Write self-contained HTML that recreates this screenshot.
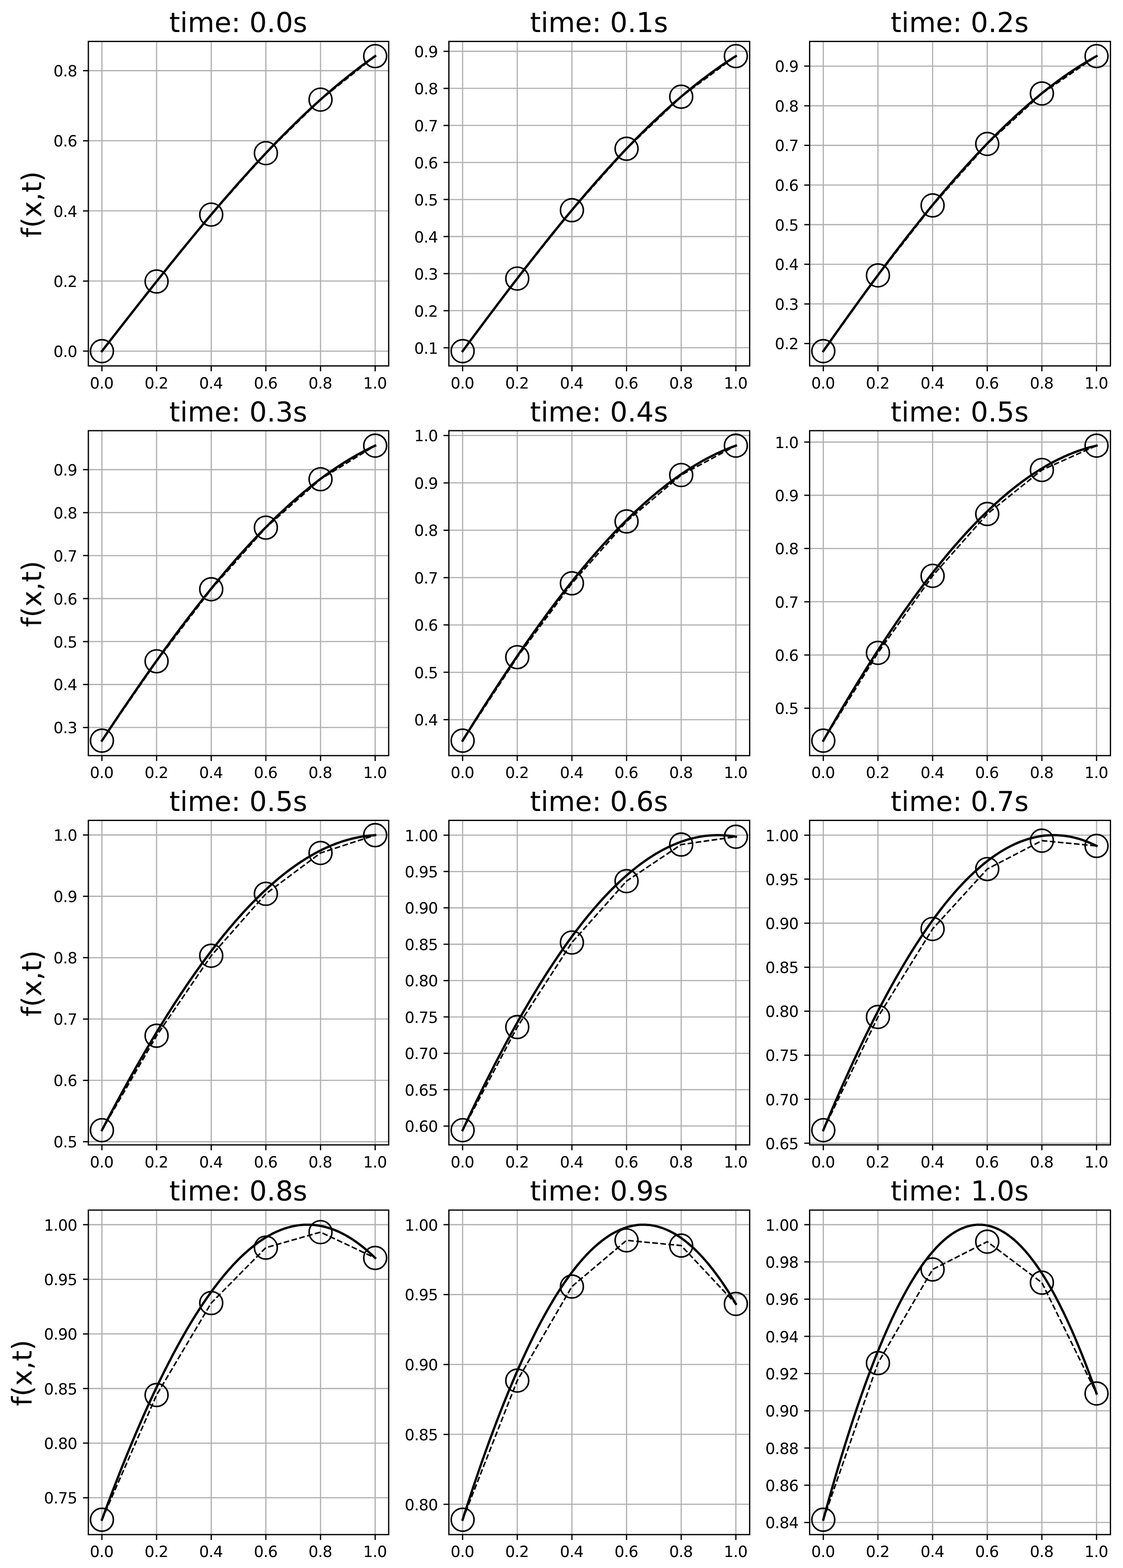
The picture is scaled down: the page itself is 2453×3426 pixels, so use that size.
<!DOCTYPE html>
<html lang="en">
<head>
<meta charset="utf-8">
<title>f(x,t) time evolution</title>
<style>
html, body { margin: 0; padding: 0; background: #ffffff; }
body { width: 2453px; height: 3426px; }
svg { display: block; }
text { font-family: "DejaVu Sans", "Liberation Sans", sans-serif; text-rendering: geometricPrecision; }
</style>
</head>
<body>
<svg width="2453" height="3426" viewBox="0 0 2453 3426" font-family="'DejaVu Sans', 'Liberation Sans', sans-serif">
<rect x="0" y="0" width="2453" height="3426" fill="#ffffff"/>
<defs>
<clipPath id="c0"><rect x="193" y="90.5" width="656" height="709"/></clipPath>
<clipPath id="c1"><rect x="980.5" y="90.5" width="657" height="709"/></clipPath>
<clipPath id="c2"><rect x="1768.5" y="90.5" width="657.1" height="709"/></clipPath>
<clipPath id="c3"><rect x="193" y="941" width="656" height="710"/></clipPath>
<clipPath id="c4"><rect x="980.5" y="941" width="657" height="710"/></clipPath>
<clipPath id="c5"><rect x="1768.5" y="941" width="657.1" height="710"/></clipPath>
<clipPath id="c6"><rect x="193" y="1792.5" width="656" height="709"/></clipPath>
<clipPath id="c7"><rect x="980.5" y="1792.5" width="657" height="709"/></clipPath>
<clipPath id="c8"><rect x="1768.5" y="1792.5" width="657.1" height="709"/></clipPath>
<clipPath id="c9"><rect x="193" y="2644" width="656" height="709"/></clipPath>
<clipPath id="c10"><rect x="980.5" y="2644" width="657" height="709"/></clipPath>
<clipPath id="c11"><rect x="1768.5" y="2644" width="657.1" height="709"/></clipPath>
</defs>
<g id="ax0">
<path d="M222.64 90.5V799.5M342.02 90.5V799.5M461.39 90.5V799.5M580.76 90.5V799.5M700.13 90.5V799.5M819.51 90.5V799.5M193 767.22H849M193 614H849M193 460.79H849M193 307.57H849M193 154.35H849" stroke="#b0b0b0" stroke-width="2.6" fill="none"/>
<path d="M222.64 799.5v11.67M342.02 799.5v11.67M461.39 799.5v11.67M580.76 799.5v11.67M700.13 799.5v11.67M819.51 799.5v11.67M193 767.22h-11.67M193 614h-11.67M193 460.79h-11.67M193 307.57h-11.67M193 154.35h-11.67" stroke="#000" stroke-width="2.75" fill="none"/>
<g clip-path="url(#c0)" fill="none" stroke="#000">
<polyline points="222.64,767.22 228.61,759.56 234.58,751.9 240.55,744.24 246.52,736.58 252.49,728.93 258.45,721.28 264.42,713.64 270.39,706 276.36,698.36 282.33,690.74 288.3,683.12 294.27,675.51 300.24,667.91 306.2,660.32 312.17,652.74 318.14,645.17 324.11,637.61 330.08,630.07 336.05,622.54 342.02,615.02 347.98,607.52 353.95,600.04 359.92,592.57 365.89,585.12 371.86,577.69 377.83,570.27 383.8,562.88 389.76,555.51 395.73,548.16 401.7,540.83 407.67,533.52 413.64,526.23 419.61,518.97 425.58,511.74 431.55,504.53 437.51,497.35 443.48,490.19 449.45,483.06 455.42,475.96 461.39,468.89 467.36,461.85 473.33,454.84 479.29,447.86 485.26,440.91 491.23,434 497.2,427.12 503.17,420.27 509.14,413.46 515.11,406.68 521.07,399.94 527.04,393.23 533.01,386.57 538.98,379.94 544.95,373.35 550.92,366.8 556.89,360.29 562.86,353.82 568.82,347.39 574.79,341 580.76,334.66 586.73,328.35 592.7,322.1 598.67,315.88 604.64,309.72 610.6,303.6 616.57,297.52 622.54,291.49 628.51,285.51 634.48,279.58 640.45,273.69 646.42,267.86 652.38,262.07 658.35,256.34 664.32,250.66 670.29,245.03 676.26,239.45 682.23,233.92 688.2,228.45 694.17,223.03 700.13,217.66 706.1,212.35 712.07,207.1 718.04,201.9 724.01,196.76 729.98,191.68 735.95,186.65 741.91,181.68 747.88,176.77 753.85,171.92 759.82,167.12 765.79,162.39 771.76,157.72 777.73,153.11 783.69,148.56 789.66,144.07 795.63,139.65 801.6,135.29 807.57,130.99 813.54,126.75 819.51,122.58" stroke-width="5" stroke-linejoin="round" stroke-linecap="square"/>
<polyline points="222.64,767.22 342.02,615.02 461.39,468.89 580.76,334.66 700.13,217.66 819.51,122.58" stroke-width="3.35" stroke-dasharray="12.33 5.33" stroke-linejoin="round"/>
<circle cx="222.64" cy="767.22" r="25" stroke-width="3.4"/>
<circle cx="342.02" cy="615.02" r="25" stroke-width="3.4"/>
<circle cx="461.39" cy="468.89" r="25" stroke-width="3.4"/>
<circle cx="580.76" cy="334.66" r="25" stroke-width="3.4"/>
<circle cx="700.13" cy="217.66" r="25" stroke-width="3.4"/>
<circle cx="819.51" cy="122.58" r="25" stroke-width="3.4"/>
</g>
<rect x="193" y="90.5" width="656" height="709" fill="none" stroke="#000" stroke-width="2.75" stroke-linejoin="miter"/>
<g font-size="33.9px" fill="#000" letter-spacing="-0.8">
<text x="222.04" y="848.88" text-anchor="middle">0.0</text>
<text x="341.42" y="848.88" text-anchor="middle">0.2</text>
<text x="460.79" y="848.88" text-anchor="middle">0.4</text>
<text x="580.16" y="848.88" text-anchor="middle">0.6</text>
<text x="699.53" y="848.88" text-anchor="middle">0.8</text>
<text x="818.91" y="848.88" text-anchor="middle">1.0</text>
<text x="168.37" y="780.02" text-anchor="end">0.0</text>
<text x="168.37" y="626.8" text-anchor="end">0.2</text>
<text x="168.37" y="473.59" text-anchor="end">0.4</text>
<text x="168.37" y="320.37" text-anchor="end">0.6</text>
<text x="168.37" y="167.15" text-anchor="end">0.8</text>
</g>
<text x="520.58" y="69.55" font-size="60px" text-anchor="middle" fill="#000">time: 0.0s</text>
<text transform="translate(90.1 446.5) rotate(-90)" font-size="59.5px" text-anchor="middle" fill="#000">f(x,t)</text>
</g>
<g id="ax1">
<path d="M1010.49 90.5V799.5M1129.87 90.5V799.5M1249.24 90.5V799.5M1368.61 90.5V799.5M1487.98 90.5V799.5M1607.36 90.5V799.5M980.5 759.76H1637.5M980.5 678.8H1637.5M980.5 597.84H1637.5M980.5 516.88H1637.5M980.5 435.93H1637.5M980.5 354.97H1637.5M980.5 274.01H1637.5M980.5 193.05H1637.5M980.5 112.1H1637.5" stroke="#b0b0b0" stroke-width="2.6" fill="none"/>
<path d="M1010.49 799.5v11.67M1129.87 799.5v11.67M1249.24 799.5v11.67M1368.61 799.5v11.67M1487.98 799.5v11.67M1607.36 799.5v11.67M980.5 759.76h-11.67M980.5 678.8h-11.67M980.5 597.84h-11.67M980.5 516.88h-11.67M980.5 435.93h-11.67M980.5 354.97h-11.67M980.5 274.01h-11.67M980.5 193.05h-11.67M980.5 112.1h-11.67" stroke="#000" stroke-width="2.75" fill="none"/>
<g clip-path="url(#c1)" fill="none" stroke="#000">
<polyline points="1010.49,767.22 1016.46,759.16 1022.43,751.11 1028.4,743.07 1034.37,735.04 1040.34,727.02 1046.31,719.01 1052.27,711.01 1058.24,703.02 1064.21,695.05 1070.18,687.1 1076.15,679.16 1082.12,671.23 1088.09,663.32 1094.05,655.43 1100.02,647.56 1105.99,639.71 1111.96,631.88 1117.93,624.07 1123.9,616.28 1129.87,608.51 1135.83,600.77 1141.8,593.05 1147.77,585.35 1153.74,577.68 1159.71,570.04 1165.68,562.42 1171.65,554.83 1177.62,547.27 1183.58,539.74 1189.55,532.24 1195.52,524.77 1201.49,517.33 1207.46,509.93 1213.43,502.56 1219.4,495.22 1225.36,487.91 1231.33,480.65 1237.3,473.41 1243.27,466.22 1249.24,459.06 1255.21,451.94 1261.18,444.86 1267.14,437.81 1273.11,430.81 1279.08,423.85 1285.05,416.93 1291.02,410.06 1296.99,403.22 1302.96,396.43 1308.93,389.69 1314.89,382.99 1320.86,376.33 1326.83,369.72 1332.8,363.16 1338.77,356.65 1344.74,350.18 1350.71,343.77 1356.67,337.4 1362.64,331.09 1368.61,324.82 1374.58,318.61 1380.55,312.45 1386.52,306.34 1392.49,300.28 1398.45,294.28 1404.42,288.34 1410.39,282.45 1416.36,276.61 1422.33,270.83 1428.3,265.11 1434.27,259.45 1440.24,253.84 1446.2,248.29 1452.17,242.81 1458.14,237.38 1464.11,232.01 1470.08,226.7 1476.05,221.46 1482.02,216.27 1487.98,211.15 1493.95,206.09 1499.92,201.1 1505.89,196.17 1511.86,191.3 1517.83,186.5 1523.8,181.76 1529.76,177.09 1535.73,172.49 1541.7,167.95 1547.67,163.48 1553.64,159.08 1559.61,154.75 1565.58,150.48 1571.55,146.29 1577.51,142.16 1583.48,138.1 1589.45,134.12 1595.42,130.2 1601.39,126.36 1607.36,122.58" stroke-width="5" stroke-linejoin="round" stroke-linecap="square"/>
<polyline points="1010.49,767.22 1129.87,608.65 1249.24,459.26 1368.61,325.01 1487.98,211.26 1607.36,122.58" stroke-width="3.35" stroke-dasharray="12.33 5.33" stroke-linejoin="round"/>
<circle cx="1010.49" cy="767.22" r="25" stroke-width="3.4"/>
<circle cx="1129.87" cy="608.65" r="25" stroke-width="3.4"/>
<circle cx="1249.24" cy="459.26" r="25" stroke-width="3.4"/>
<circle cx="1368.61" cy="325.01" r="25" stroke-width="3.4"/>
<circle cx="1487.98" cy="211.26" r="25" stroke-width="3.4"/>
<circle cx="1607.36" cy="122.58" r="25" stroke-width="3.4"/>
</g>
<rect x="980.5" y="90.5" width="657" height="709" fill="none" stroke="#000" stroke-width="2.75" stroke-linejoin="miter"/>
<g font-size="33.9px" fill="#000" letter-spacing="-0.8">
<text x="1009.89" y="848.88" text-anchor="middle">0.0</text>
<text x="1129.27" y="848.88" text-anchor="middle">0.2</text>
<text x="1248.64" y="848.88" text-anchor="middle">0.4</text>
<text x="1368.01" y="848.88" text-anchor="middle">0.6</text>
<text x="1487.38" y="848.88" text-anchor="middle">0.8</text>
<text x="1606.76" y="848.88" text-anchor="middle">1.0</text>
<text x="956.22" y="772.56" text-anchor="end">0.1</text>
<text x="956.22" y="691.6" text-anchor="end">0.2</text>
<text x="956.22" y="610.64" text-anchor="end">0.3</text>
<text x="956.22" y="529.68" text-anchor="end">0.4</text>
<text x="956.22" y="448.73" text-anchor="end">0.5</text>
<text x="956.22" y="367.77" text-anchor="end">0.6</text>
<text x="956.22" y="286.81" text-anchor="end">0.7</text>
<text x="956.22" y="205.85" text-anchor="end">0.8</text>
<text x="956.22" y="124.9" text-anchor="end">0.9</text>
</g>
<text x="1308.42" y="69.55" font-size="60px" text-anchor="middle" fill="#000">time: 0.1s</text>
</g>
<g id="ax2">
<path d="M1798.34 90.5V799.5M1917.72 90.5V799.5M2037.09 90.5V799.5M2156.46 90.5V799.5M2275.83 90.5V799.5M2395.21 90.5V799.5M1768.5 750.61H2425.6M1768.5 664.02H2425.6M1768.5 577.43H2425.6M1768.5 490.84H2425.6M1768.5 404.25H2425.6M1768.5 317.66H2425.6M1768.5 231.08H2425.6M1768.5 144.49H2425.6" stroke="#b0b0b0" stroke-width="2.6" fill="none"/>
<path d="M1798.34 799.5v11.67M1917.72 799.5v11.67M2037.09 799.5v11.67M2156.46 799.5v11.67M2275.83 799.5v11.67M2395.21 799.5v11.67M1768.5 750.61h-11.67M1768.5 664.02h-11.67M1768.5 577.43h-11.67M1768.5 490.84h-11.67M1768.5 404.25h-11.67M1768.5 317.66h-11.67M1768.5 231.08h-11.67M1768.5 144.49h-11.67" stroke="#000" stroke-width="2.75" fill="none"/>
<g clip-path="url(#c2)" fill="none" stroke="#000">
<polyline points="1798.34,767.22 1804.31,758.71 1810.28,750.22 1816.25,741.74 1822.22,733.29 1828.19,724.85 1834.15,716.43 1840.12,708.04 1846.09,699.66 1852.06,691.31 1858.03,682.98 1864,674.68 1869.97,666.4 1875.94,658.14 1881.9,649.91 1887.87,641.71 1893.84,633.54 1899.81,625.4 1905.78,617.28 1911.75,609.2 1917.72,601.15 1923.68,593.13 1929.65,585.14 1935.62,577.19 1941.59,569.27 1947.56,561.39 1953.53,553.55 1959.5,545.74 1965.46,537.97 1971.43,530.23 1977.4,522.54 1983.37,514.89 1989.34,507.28 1995.31,499.71 2001.28,492.18 2007.25,484.69 2013.21,477.25 2019.18,469.86 2025.15,462.51 2031.12,455.2 2037.09,447.94 2043.06,440.73 2049.03,433.57 2054.99,426.46 2060.96,419.39 2066.93,412.38 2072.9,405.42 2078.87,398.51 2084.84,391.65 2090.81,384.85 2096.78,378.1 2102.74,371.4 2108.71,364.76 2114.68,358.18 2120.65,351.65 2126.62,345.18 2132.59,338.77 2138.56,332.41 2144.52,326.12 2150.49,319.88 2156.46,313.71 2162.43,307.59 2168.4,301.54 2174.37,295.55 2180.34,289.62 2186.3,283.76 2192.27,277.96 2198.24,272.22 2204.21,266.55 2210.18,260.95 2216.15,255.41 2222.12,249.94 2228.09,244.53 2234.05,239.2 2240.02,233.93 2245.99,228.73 2251.96,223.6 2257.93,218.54 2263.9,213.56 2269.87,208.64 2275.83,203.79 2281.8,199.02 2287.77,194.32 2293.74,189.69 2299.71,185.13 2305.68,180.65 2311.65,176.24 2317.61,171.91 2323.58,167.65 2329.55,163.47 2335.52,159.37 2341.49,155.34 2347.46,151.39 2353.43,147.51 2359.39,143.71 2365.36,140 2371.33,136.35 2377.3,132.79 2383.27,129.31 2389.24,125.91 2395.21,122.58" stroke-width="5" stroke-linejoin="round" stroke-linecap="square"/>
<polyline points="1798.34,767.22 1917.72,601.72 2037.09,448.79 2156.46,314.48 2275.83,204.24 2395.21,122.58" stroke-width="3.35" stroke-dasharray="12.33 5.33" stroke-linejoin="round"/>
<circle cx="1798.34" cy="767.22" r="25" stroke-width="3.4"/>
<circle cx="1917.72" cy="601.72" r="25" stroke-width="3.4"/>
<circle cx="2037.09" cy="448.79" r="25" stroke-width="3.4"/>
<circle cx="2156.46" cy="314.48" r="25" stroke-width="3.4"/>
<circle cx="2275.83" cy="204.24" r="25" stroke-width="3.4"/>
<circle cx="2395.21" cy="122.58" r="25" stroke-width="3.4"/>
</g>
<rect x="1768.5" y="90.5" width="657.1" height="709" fill="none" stroke="#000" stroke-width="2.75" stroke-linejoin="miter"/>
<g font-size="33.9px" fill="#000" letter-spacing="-0.8">
<text x="1797.74" y="848.88" text-anchor="middle">0.0</text>
<text x="1917.12" y="848.88" text-anchor="middle">0.2</text>
<text x="2036.49" y="848.88" text-anchor="middle">0.4</text>
<text x="2155.86" y="848.88" text-anchor="middle">0.6</text>
<text x="2275.23" y="848.88" text-anchor="middle">0.8</text>
<text x="2394.61" y="848.88" text-anchor="middle">1.0</text>
<text x="1744.07" y="763.41" text-anchor="end">0.2</text>
<text x="1744.07" y="676.82" text-anchor="end">0.3</text>
<text x="1744.07" y="590.23" text-anchor="end">0.4</text>
<text x="1744.07" y="503.64" text-anchor="end">0.5</text>
<text x="1744.07" y="417.05" text-anchor="end">0.6</text>
<text x="1744.07" y="330.46" text-anchor="end">0.7</text>
<text x="1744.07" y="243.88" text-anchor="end">0.8</text>
<text x="1744.07" y="157.29" text-anchor="end">0.9</text>
</g>
<text x="2096.27" y="69.55" font-size="60px" text-anchor="middle" fill="#000">time: 0.2s</text>
</g>
<g id="ax3">
<path d="M222.64 941V1651M342.02 941V1651M461.39 941V1651M580.76 941V1651M700.13 941V1651M819.51 941V1651M193 1589.55H849M193 1495.65H849M193 1401.76H849M193 1307.86H849M193 1213.97H849M193 1120.07H849M193 1026.17H849" stroke="#b0b0b0" stroke-width="2.6" fill="none"/>
<path d="M222.64 1651v11.67M342.02 1651v11.67M461.39 1651v11.67M580.76 1651v11.67M700.13 1651v11.67M819.51 1651v11.67M193 1589.55h-11.67M193 1495.65h-11.67M193 1401.76h-11.67M193 1307.86h-11.67M193 1213.97h-11.67M193 1120.07h-11.67M193 1026.17h-11.67" stroke="#000" stroke-width="2.75" fill="none"/>
<g clip-path="url(#c3)" fill="none" stroke="#000">
<polyline points="222.64,1618.32 228.61,1609.29 234.58,1600.28 240.55,1591.31 246.52,1582.36 252.49,1573.44 258.45,1564.55 264.42,1555.69 270.39,1546.86 276.36,1538.07 282.33,1529.31 288.3,1520.58 294.27,1511.89 300.24,1503.23 306.2,1494.61 312.17,1486.03 318.14,1477.48 324.11,1468.98 330.08,1460.52 336.05,1452.09 342.02,1443.71 347.98,1435.37 353.95,1427.08 359.92,1418.83 365.89,1410.62 371.86,1402.47 377.83,1394.35 383.8,1386.29 389.76,1378.27 395.73,1370.31 401.7,1362.39 407.67,1354.52 413.64,1346.71 419.61,1338.95 425.58,1331.24 431.55,1323.59 437.51,1315.99 443.48,1308.44 449.45,1300.95 455.42,1293.52 461.39,1286.15 467.36,1278.84 473.33,1271.58 479.29,1264.39 485.26,1257.25 491.23,1250.18 497.2,1243.17 503.17,1236.22 509.14,1229.33 515.11,1222.51 521.07,1215.76 527.04,1209.07 533.01,1202.44 538.98,1195.89 544.95,1189.4 550.92,1182.98 556.89,1176.62 562.86,1170.34 568.82,1164.13 574.79,1157.99 580.76,1151.91 586.73,1145.92 592.7,1139.99 598.67,1134.14 604.64,1128.36 610.6,1122.65 616.57,1117.02 622.54,1111.47 628.51,1105.99 634.48,1100.58 640.45,1095.26 646.42,1090.01 652.38,1084.84 658.35,1079.75 664.32,1074.74 670.29,1069.81 676.26,1064.95 682.23,1060.18 688.2,1055.49 694.17,1050.88 700.13,1046.36 706.1,1041.91 712.07,1037.55 718.04,1033.27 724.01,1029.08 729.98,1024.97 735.95,1020.94 741.91,1017 747.88,1013.15 753.85,1009.38 759.82,1005.69 765.79,1002.1 771.76,998.59 777.73,995.17 783.69,991.83 789.66,988.59 795.63,985.43 801.6,982.36 807.57,979.38 813.54,976.48 819.51,973.68" stroke-width="5" stroke-linejoin="round" stroke-linecap="square"/>
<polyline points="222.64,1618.32 342.02,1444.84 461.39,1287.47 580.76,1152.85 700.13,1047.11 819.51,973.68" stroke-width="3.35" stroke-dasharray="12.33 5.33" stroke-linejoin="round"/>
<circle cx="222.64" cy="1618.32" r="25" stroke-width="3.4"/>
<circle cx="342.02" cy="1444.84" r="25" stroke-width="3.4"/>
<circle cx="461.39" cy="1287.47" r="25" stroke-width="3.4"/>
<circle cx="580.76" cy="1152.85" r="25" stroke-width="3.4"/>
<circle cx="700.13" cy="1047.11" r="25" stroke-width="3.4"/>
<circle cx="819.51" cy="973.68" r="25" stroke-width="3.4"/>
</g>
<rect x="193" y="941" width="656" height="710" fill="none" stroke="#000" stroke-width="2.75" stroke-linejoin="miter"/>
<g font-size="33.9px" fill="#000" letter-spacing="-0.8">
<text x="222.04" y="1699.98" text-anchor="middle">0.0</text>
<text x="341.42" y="1699.98" text-anchor="middle">0.2</text>
<text x="460.79" y="1699.98" text-anchor="middle">0.4</text>
<text x="580.16" y="1699.98" text-anchor="middle">0.6</text>
<text x="699.53" y="1699.98" text-anchor="middle">0.8</text>
<text x="818.91" y="1699.98" text-anchor="middle">1.0</text>
<text x="168.37" y="1602.35" text-anchor="end">0.3</text>
<text x="168.37" y="1508.45" text-anchor="end">0.4</text>
<text x="168.37" y="1414.56" text-anchor="end">0.5</text>
<text x="168.37" y="1320.66" text-anchor="end">0.6</text>
<text x="168.37" y="1226.77" text-anchor="end">0.7</text>
<text x="168.37" y="1132.87" text-anchor="end">0.8</text>
<text x="168.37" y="1038.97" text-anchor="end">0.9</text>
</g>
<text x="520.58" y="920.65" font-size="60px" text-anchor="middle" fill="#000">time: 0.3s</text>
<text transform="translate(90.1 1297.6) rotate(-90)" font-size="59.5px" text-anchor="middle" fill="#000">f(x,t)</text>
</g>
<g id="ax4">
<path d="M1010.49 941V1651M1129.87 941V1651M1249.24 941V1651M1368.61 941V1651M1487.98 941V1651M1607.36 941V1651M980.5 1572.45H1637.5M980.5 1468.97H1637.5M980.5 1365.49H1637.5M980.5 1262H1637.5M980.5 1158.52H1637.5M980.5 1055.04H1637.5M980.5 951.56H1637.5" stroke="#b0b0b0" stroke-width="2.6" fill="none"/>
<path d="M1010.49 1651v11.67M1129.87 1651v11.67M1249.24 1651v11.67M1368.61 1651v11.67M1487.98 1651v11.67M1607.36 1651v11.67M980.5 1572.45h-11.67M980.5 1468.97h-11.67M980.5 1365.49h-11.67M980.5 1262h-11.67M980.5 1158.52h-11.67M980.5 1055.04h-11.67M980.5 951.56h-11.67" stroke="#000" stroke-width="2.75" fill="none"/>
<g clip-path="url(#c4)" fill="none" stroke="#000">
<polyline points="1010.49,1618.32 1016.46,1608.67 1022.43,1599.05 1028.4,1589.47 1034.37,1579.94 1040.34,1570.44 1046.31,1560.99 1052.27,1551.57 1058.24,1542.21 1064.21,1532.88 1070.18,1523.6 1076.15,1514.37 1082.12,1505.18 1088.09,1496.05 1094.05,1486.96 1100.02,1477.92 1105.99,1468.93 1111.96,1460 1117.93,1451.12 1123.9,1442.29 1129.87,1433.51 1135.83,1424.79 1141.8,1416.13 1147.77,1407.52 1153.74,1398.97 1159.71,1390.48 1165.68,1382.05 1171.65,1373.68 1177.62,1365.37 1183.58,1357.13 1189.55,1348.94 1195.52,1340.82 1201.49,1332.77 1207.46,1324.78 1213.43,1316.85 1219.4,1309 1225.36,1301.21 1231.33,1293.49 1237.3,1285.84 1243.27,1278.26 1249.24,1270.74 1255.21,1263.31 1261.18,1255.94 1267.14,1248.65 1273.11,1241.43 1279.08,1234.28 1285.05,1227.21 1291.02,1220.22 1296.99,1213.3 1302.96,1206.46 1308.93,1199.7 1314.89,1193.01 1320.86,1186.41 1326.83,1179.88 1332.8,1173.44 1338.77,1167.08 1344.74,1160.8 1350.71,1154.6 1356.67,1148.49 1362.64,1142.45 1368.61,1136.51 1374.58,1130.65 1380.55,1124.87 1386.52,1119.18 1392.49,1113.58 1398.45,1108.06 1404.42,1102.63 1410.39,1097.3 1416.36,1092.04 1422.33,1086.88 1428.3,1081.81 1434.27,1076.83 1440.24,1071.94 1446.2,1067.14 1452.17,1062.44 1458.14,1057.82 1464.11,1053.3 1470.08,1048.87 1476.05,1044.54 1482.02,1040.3 1487.98,1036.15 1493.95,1032.1 1499.92,1028.15 1505.89,1024.29 1511.86,1020.53 1517.83,1016.86 1523.8,1013.29 1529.76,1009.82 1535.73,1006.44 1541.7,1003.17 1547.67,999.99 1553.64,996.91 1559.61,993.93 1565.58,991.05 1571.55,988.27 1577.51,985.59 1583.48,983 1589.45,980.52 1595.42,978.14 1601.39,975.86 1607.36,973.68" stroke-width="5" stroke-linejoin="round" stroke-linecap="square"/>
<polyline points="1010.49,1618.32 1129.87,1435.89 1249.24,1274.57 1368.61,1139.3 1487.98,1037.91 1607.36,973.68" stroke-width="3.35" stroke-dasharray="12.33 5.33" stroke-linejoin="round"/>
<circle cx="1010.49" cy="1618.32" r="25" stroke-width="3.4"/>
<circle cx="1129.87" cy="1435.89" r="25" stroke-width="3.4"/>
<circle cx="1249.24" cy="1274.57" r="25" stroke-width="3.4"/>
<circle cx="1368.61" cy="1139.3" r="25" stroke-width="3.4"/>
<circle cx="1487.98" cy="1037.91" r="25" stroke-width="3.4"/>
<circle cx="1607.36" cy="973.68" r="25" stroke-width="3.4"/>
</g>
<rect x="980.5" y="941" width="657" height="710" fill="none" stroke="#000" stroke-width="2.75" stroke-linejoin="miter"/>
<g font-size="33.9px" fill="#000" letter-spacing="-0.8">
<text x="1009.89" y="1699.98" text-anchor="middle">0.0</text>
<text x="1129.27" y="1699.98" text-anchor="middle">0.2</text>
<text x="1248.64" y="1699.98" text-anchor="middle">0.4</text>
<text x="1368.01" y="1699.98" text-anchor="middle">0.6</text>
<text x="1487.38" y="1699.98" text-anchor="middle">0.8</text>
<text x="1606.76" y="1699.98" text-anchor="middle">1.0</text>
<text x="956.22" y="1585.25" text-anchor="end">0.4</text>
<text x="956.22" y="1481.77" text-anchor="end">0.5</text>
<text x="956.22" y="1378.29" text-anchor="end">0.6</text>
<text x="956.22" y="1274.8" text-anchor="end">0.7</text>
<text x="956.22" y="1171.32" text-anchor="end">0.8</text>
<text x="956.22" y="1067.84" text-anchor="end">0.9</text>
<text x="956.22" y="964.36" text-anchor="end">1.0</text>
</g>
<text x="1308.42" y="920.65" font-size="60px" text-anchor="middle" fill="#000">time: 0.4s</text>
</g>
<g id="ax5">
<path d="M1798.34 941V1651M1917.72 941V1651M2037.09 941V1651M2156.46 941V1651M2275.83 941V1651M2395.21 941V1651M1768.5 1547.43H2425.6M1768.5 1431.11H2425.6M1768.5 1314.79H2425.6M1768.5 1198.47H2425.6M1768.5 1082.15H2425.6M1768.5 965.83H2425.6" stroke="#b0b0b0" stroke-width="2.6" fill="none"/>
<path d="M1798.34 1651v11.67M1917.72 1651v11.67M2037.09 1651v11.67M2156.46 1651v11.67M2275.83 1651v11.67M2395.21 1651v11.67M1768.5 1547.43h-11.67M1768.5 1431.11h-11.67M1768.5 1314.79h-11.67M1768.5 1198.47h-11.67M1768.5 1082.15h-11.67M1768.5 965.83h-11.67" stroke="#000" stroke-width="2.75" fill="none"/>
<g clip-path="url(#c5)" fill="none" stroke="#000">
<polyline points="1798.34,1618.32 1804.31,1607.89 1810.28,1597.52 1816.25,1587.2 1822.22,1576.93 1828.19,1566.72 1834.15,1556.57 1840.12,1546.47 1846.09,1536.43 1852.06,1526.45 1858.03,1516.54 1864,1506.68 1869.97,1496.88 1875.94,1487.15 1881.9,1477.48 1887.87,1467.88 1893.84,1458.34 1899.81,1448.87 1905.78,1439.47 1911.75,1430.14 1917.72,1420.87 1923.68,1411.68 1929.65,1402.56 1935.62,1393.51 1941.59,1384.54 1947.56,1375.64 1953.53,1366.81 1959.5,1358.06 1965.46,1349.39 1971.43,1340.8 1977.4,1332.29 1983.37,1323.85 1989.34,1315.5 1995.31,1307.22 2001.28,1299.03 2007.25,1290.92 2013.21,1282.9 2019.18,1274.96 2025.15,1267.11 2031.12,1259.34 2037.09,1251.66 2043.06,1244.07 2049.03,1236.56 2054.99,1229.15 2060.96,1221.82 2066.93,1214.59 2072.9,1207.44 2078.87,1200.39 2084.84,1193.43 2090.81,1186.57 2096.78,1179.8 2102.74,1173.12 2108.71,1166.54 2114.68,1160.06 2120.65,1153.67 2126.62,1147.38 2132.59,1141.19 2138.56,1135.1 2144.52,1129.11 2150.49,1123.21 2156.46,1117.42 2162.43,1111.73 2168.4,1106.14 2174.37,1100.66 2180.34,1095.27 2186.3,1089.99 2192.27,1084.81 2198.24,1079.74 2204.21,1074.77 2210.18,1069.91 2216.15,1065.15 2222.12,1060.5 2228.09,1055.96 2234.05,1051.53 2240.02,1047.2 2245.99,1042.98 2251.96,1038.87 2257.93,1034.86 2263.9,1030.97 2269.87,1027.19 2275.83,1023.52 2281.8,1019.95 2287.77,1016.5 2293.74,1013.16 2299.71,1009.93 2305.68,1006.82 2311.65,1003.81 2317.61,1000.92 2323.58,998.14 2329.55,995.48 2335.52,992.92 2341.49,990.48 2347.46,988.16 2353.43,985.95 2359.39,983.85 2365.36,981.87 2371.33,980 2377.3,978.25 2383.27,976.61 2389.24,975.09 2395.21,973.68" stroke-width="5" stroke-linejoin="round" stroke-linecap="square"/>
<polyline points="1798.34,1618.32 1917.72,1426.46 2037.09,1258.17 2156.46,1123.01 2275.83,1026.89 2395.21,973.68" stroke-width="3.35" stroke-dasharray="12.33 5.33" stroke-linejoin="round"/>
<circle cx="1798.34" cy="1618.32" r="25" stroke-width="3.4"/>
<circle cx="1917.72" cy="1426.46" r="25" stroke-width="3.4"/>
<circle cx="2037.09" cy="1258.17" r="25" stroke-width="3.4"/>
<circle cx="2156.46" cy="1123.01" r="25" stroke-width="3.4"/>
<circle cx="2275.83" cy="1026.89" r="25" stroke-width="3.4"/>
<circle cx="2395.21" cy="973.68" r="25" stroke-width="3.4"/>
</g>
<rect x="1768.5" y="941" width="657.1" height="710" fill="none" stroke="#000" stroke-width="2.75" stroke-linejoin="miter"/>
<g font-size="33.9px" fill="#000" letter-spacing="-0.8">
<text x="1797.74" y="1699.98" text-anchor="middle">0.0</text>
<text x="1917.12" y="1699.98" text-anchor="middle">0.2</text>
<text x="2036.49" y="1699.98" text-anchor="middle">0.4</text>
<text x="2155.86" y="1699.98" text-anchor="middle">0.6</text>
<text x="2275.23" y="1699.98" text-anchor="middle">0.8</text>
<text x="2394.61" y="1699.98" text-anchor="middle">1.0</text>
<text x="1744.07" y="1560.23" text-anchor="end">0.5</text>
<text x="1744.07" y="1443.91" text-anchor="end">0.6</text>
<text x="1744.07" y="1327.59" text-anchor="end">0.7</text>
<text x="1744.07" y="1211.27" text-anchor="end">0.8</text>
<text x="1744.07" y="1094.95" text-anchor="end">0.9</text>
<text x="1744.07" y="978.63" text-anchor="end">1.0</text>
</g>
<text x="2096.27" y="920.65" font-size="60px" text-anchor="middle" fill="#000">time: 0.5s</text>
</g>
<g id="ax6">
<path d="M222.64 1792.5V2501.5M342.02 1792.5V2501.5M461.39 1792.5V2501.5M580.76 1792.5V2501.5M700.13 1792.5V2501.5M819.51 1792.5V2501.5M193 2494.63H849M193 2360.57H849M193 2226.52H849M193 2092.46H849M193 1958.41H849M193 1824.35H849" stroke="#b0b0b0" stroke-width="2.6" fill="none"/>
<path d="M222.64 2501.5v11.67M342.02 2501.5v11.67M461.39 2501.5v11.67M580.76 2501.5v11.67M700.13 2501.5v11.67M819.51 2501.5v11.67M193 2494.63h-11.67M193 2360.57h-11.67M193 2226.52h-11.67M193 2092.46h-11.67M193 1958.41h-11.67M193 1824.35h-11.67" stroke="#000" stroke-width="2.75" fill="none"/>
<g clip-path="url(#c6)" fill="none" stroke="#000">
<polyline points="222.64,2469.42 228.61,2457.99 234.58,2446.64 240.55,2435.36 246.52,2424.15 252.49,2413.01 258.45,2401.95 264.42,2390.96 270.39,2380.06 276.36,2369.23 282.33,2358.48 288.3,2347.81 294.27,2337.23 300.24,2326.72 306.2,2316.3 312.17,2305.97 318.14,2295.72 324.11,2285.56 330.08,2275.48 336.05,2265.5 342.02,2255.6 347.98,2245.8 353.95,2236.08 359.92,2226.46 365.89,2216.94 371.86,2207.51 377.83,2198.17 383.8,2188.93 389.76,2179.79 395.73,2170.75 401.7,2161.81 407.67,2152.96 413.64,2144.22 419.61,2135.58 425.58,2127.05 431.55,2118.61 437.51,2110.28 443.48,2102.06 449.45,2093.95 455.42,2085.94 461.39,2078.03 467.36,2070.24 473.33,2062.56 479.29,2054.98 485.26,2047.52 491.23,2040.17 497.2,2032.93 503.17,2025.81 509.14,2018.8 515.11,2011.9 521.07,2005.12 527.04,1998.46 533.01,1991.91 538.98,1985.48 544.95,1979.16 550.92,1972.97 556.89,1966.9 562.86,1960.94 568.82,1955.1 574.79,1949.39 580.76,1943.8 586.73,1938.33 592.7,1932.98 598.67,1927.76 604.64,1922.65 610.6,1917.68 616.57,1912.83 622.54,1908.1 628.51,1903.5 634.48,1899.02 640.45,1894.67 646.42,1890.45 652.38,1886.36 658.35,1882.39 664.32,1878.56 670.29,1874.85 676.26,1871.27 682.23,1867.82 688.2,1864.5 694.17,1861.3 700.13,1858.24 706.1,1855.31 712.07,1852.51 718.04,1849.85 724.01,1847.31 729.98,1844.91 735.95,1842.63 741.91,1840.49 747.88,1838.49 753.85,1836.61 759.82,1834.87 765.79,1833.26 771.76,1831.78 777.73,1830.44 783.69,1829.23 789.66,1828.15 795.63,1827.21 801.6,1826.4 807.57,1825.73 813.54,1825.19 819.51,1824.78" stroke-width="5" stroke-linejoin="round" stroke-linecap="square"/>
<polyline points="222.64,2469.42 342.02,2262.97 461.39,2088.22 580.76,1952.91 700.13,1863.74 819.51,1824.78" stroke-width="3.35" stroke-dasharray="12.33 5.33" stroke-linejoin="round"/>
<circle cx="222.64" cy="2469.42" r="25" stroke-width="3.4"/>
<circle cx="342.02" cy="2262.97" r="25" stroke-width="3.4"/>
<circle cx="461.39" cy="2088.22" r="25" stroke-width="3.4"/>
<circle cx="580.76" cy="1952.91" r="25" stroke-width="3.4"/>
<circle cx="700.13" cy="1863.74" r="25" stroke-width="3.4"/>
<circle cx="819.51" cy="1824.78" r="25" stroke-width="3.4"/>
</g>
<rect x="193" y="1792.5" width="656" height="709" fill="none" stroke="#000" stroke-width="2.75" stroke-linejoin="miter"/>
<g font-size="33.9px" fill="#000" letter-spacing="-0.8">
<text x="222.04" y="2551.08" text-anchor="middle">0.0</text>
<text x="341.42" y="2551.08" text-anchor="middle">0.2</text>
<text x="460.79" y="2551.08" text-anchor="middle">0.4</text>
<text x="580.16" y="2551.08" text-anchor="middle">0.6</text>
<text x="699.53" y="2551.08" text-anchor="middle">0.8</text>
<text x="818.91" y="2551.08" text-anchor="middle">1.0</text>
<text x="168.37" y="2507.43" text-anchor="end">0.5</text>
<text x="168.37" y="2373.37" text-anchor="end">0.6</text>
<text x="168.37" y="2239.32" text-anchor="end">0.7</text>
<text x="168.37" y="2105.26" text-anchor="end">0.8</text>
<text x="168.37" y="1971.21" text-anchor="end">0.9</text>
<text x="168.37" y="1837.15" text-anchor="end">1.0</text>
</g>
<text x="520.58" y="1771.75" font-size="60px" text-anchor="middle" fill="#000">time: 0.5s</text>
<text transform="translate(90.1 2148.7) rotate(-90)" font-size="59.5px" text-anchor="middle" fill="#000">f(x,t)</text>
</g>
<g id="ax7">
<path d="M1010.49 1792.5V2501.5M1129.87 1792.5V2501.5M1249.24 1792.5V2501.5M1368.61 1792.5V2501.5M1487.98 1792.5V2501.5M1607.36 1792.5V2501.5M980.5 2460.32H1637.5M980.5 2380.88H1637.5M980.5 2301.43H1637.5M980.5 2221.99H1637.5M980.5 2142.54H1637.5M980.5 2063.1H1637.5M980.5 1983.66H1637.5M980.5 1904.21H1637.5M980.5 1824.77H1637.5" stroke="#b0b0b0" stroke-width="2.6" fill="none"/>
<path d="M1010.49 2501.5v11.67M1129.87 2501.5v11.67M1249.24 2501.5v11.67M1368.61 2501.5v11.67M1487.98 2501.5v11.67M1607.36 2501.5v11.67M980.5 2460.32h-11.67M980.5 2380.88h-11.67M980.5 2301.43h-11.67M980.5 2221.99h-11.67M980.5 2142.54h-11.67M980.5 2063.1h-11.67M980.5 1983.66h-11.67M980.5 1904.21h-11.67M980.5 1824.77h-11.67" stroke="#000" stroke-width="2.75" fill="none"/>
<g clip-path="url(#c7)" fill="none" stroke="#000">
<polyline points="1010.49,2469.42 1016.46,2456.69 1022.43,2444.05 1028.4,2431.51 1034.37,2419.07 1040.34,2406.73 1046.31,2394.49 1052.27,2382.35 1058.24,2370.32 1064.21,2358.39 1070.18,2346.56 1076.15,2334.84 1082.12,2323.23 1088.09,2311.73 1094.05,2300.34 1100.02,2289.06 1105.99,2277.89 1111.96,2266.83 1117.93,2255.89 1123.9,2245.07 1129.87,2234.36 1135.83,2223.77 1141.8,2213.3 1147.77,2202.95 1153.74,2192.73 1159.71,2182.62 1165.68,2172.64 1171.65,2162.78 1177.62,2153.04 1183.58,2143.43 1189.55,2133.95 1195.52,2124.6 1201.49,2115.37 1207.46,2106.28 1213.43,2097.31 1219.4,2088.48 1225.36,2079.78 1231.33,2071.22 1237.3,2062.78 1243.27,2054.49 1249.24,2046.32 1255.21,2038.3 1261.18,2030.41 1267.14,2022.66 1273.11,2015.05 1279.08,2007.58 1285.05,2000.26 1291.02,1993.07 1296.99,1986.02 1302.96,1979.12 1308.93,1972.36 1314.89,1965.74 1320.86,1959.27 1326.83,1952.95 1332.8,1946.77 1338.77,1940.74 1344.74,1934.85 1350.71,1929.11 1356.67,1923.53 1362.64,1918.09 1368.61,1912.8 1374.58,1907.66 1380.55,1902.67 1386.52,1897.83 1392.49,1893.14 1398.45,1888.61 1404.42,1884.22 1410.39,1879.99 1416.36,1875.92 1422.33,1872 1428.3,1868.23 1434.27,1864.61 1440.24,1861.16 1446.2,1857.85 1452.17,1854.7 1458.14,1851.71 1464.11,1848.88 1470.08,1846.2 1476.05,1843.68 1482.02,1841.31 1487.98,1839.1 1493.95,1837.05 1499.92,1835.16 1505.89,1833.42 1511.86,1831.85 1517.83,1830.43 1523.8,1829.17 1529.76,1828.06 1535.73,1827.12 1541.7,1826.33 1547.67,1825.71 1553.64,1825.24 1559.61,1824.93 1565.58,1824.78 1571.55,1824.79 1577.51,1824.96 1583.48,1825.29 1589.45,1825.77 1595.42,1826.42 1601.39,1827.22 1607.36,1828.18" stroke-width="5" stroke-linejoin="round" stroke-linecap="square"/>
<polyline points="1010.49,2469.42 1129.87,2244.06 1249.24,2059.35 1368.61,1925.19 1487.98,1845.3 1607.36,1828.18" stroke-width="3.35" stroke-dasharray="12.33 5.33" stroke-linejoin="round"/>
<circle cx="1010.49" cy="2469.42" r="25" stroke-width="3.4"/>
<circle cx="1129.87" cy="2244.06" r="25" stroke-width="3.4"/>
<circle cx="1249.24" cy="2059.35" r="25" stroke-width="3.4"/>
<circle cx="1368.61" cy="1925.19" r="25" stroke-width="3.4"/>
<circle cx="1487.98" cy="1845.3" r="25" stroke-width="3.4"/>
<circle cx="1607.36" cy="1828.18" r="25" stroke-width="3.4"/>
</g>
<rect x="980.5" y="1792.5" width="657" height="709" fill="none" stroke="#000" stroke-width="2.75" stroke-linejoin="miter"/>
<g font-size="33.9px" fill="#000" letter-spacing="-0.8">
<text x="1009.89" y="2551.08" text-anchor="middle">0.0</text>
<text x="1129.27" y="2551.08" text-anchor="middle">0.2</text>
<text x="1248.64" y="2551.08" text-anchor="middle">0.4</text>
<text x="1368.01" y="2551.08" text-anchor="middle">0.6</text>
<text x="1487.38" y="2551.08" text-anchor="middle">0.8</text>
<text x="1606.76" y="2551.08" text-anchor="middle">1.0</text>
<text x="956.22" y="2473.12" text-anchor="end">0.60</text>
<text x="956.22" y="2393.68" text-anchor="end">0.65</text>
<text x="956.22" y="2314.23" text-anchor="end">0.70</text>
<text x="956.22" y="2234.79" text-anchor="end">0.75</text>
<text x="956.22" y="2155.34" text-anchor="end">0.80</text>
<text x="956.22" y="2075.9" text-anchor="end">0.85</text>
<text x="956.22" y="1996.46" text-anchor="end">0.90</text>
<text x="956.22" y="1917.01" text-anchor="end">0.95</text>
<text x="956.22" y="1837.57" text-anchor="end">1.00</text>
</g>
<text x="1308.42" y="1771.75" font-size="60px" text-anchor="middle" fill="#000">time: 0.6s</text>
</g>
<g id="ax8">
<path d="M1798.34 1792.5V2501.5M1917.72 1792.5V2501.5M2037.09 1792.5V2501.5M2156.46 1792.5V2501.5M2275.83 1792.5V2501.5M2395.21 1792.5V2501.5M1768.5 2497.95H2425.6M1768.5 2401.78H2425.6M1768.5 2305.61H2425.6M1768.5 2209.44H2425.6M1768.5 2113.28H2425.6M1768.5 2017.11H2425.6M1768.5 1920.94H2425.6M1768.5 1824.77H2425.6" stroke="#b0b0b0" stroke-width="2.6" fill="none"/>
<path d="M1798.34 2501.5v11.67M1917.72 2501.5v11.67M2037.09 2501.5v11.67M2156.46 2501.5v11.67M2275.83 2501.5v11.67M2395.21 2501.5v11.67M1768.5 2497.95h-11.67M1768.5 2401.78h-11.67M1768.5 2305.61h-11.67M1768.5 2209.44h-11.67M1768.5 2113.28h-11.67M1768.5 2017.11h-11.67M1768.5 1920.94h-11.67M1768.5 1824.77h-11.67" stroke="#000" stroke-width="2.75" fill="none"/>
<g clip-path="url(#c8)" fill="none" stroke="#000">
<polyline points="1798.34,2469.42 1804.31,2455.11 1810.28,2440.94 1816.25,2426.9 1822.22,2412.99 1828.19,2399.21 1834.15,2385.57 1840.12,2372.06 1846.09,2358.69 1852.06,2345.46 1858.03,2332.37 1864,2319.42 1869.97,2306.62 1875.94,2293.96 1881.9,2281.44 1887.87,2269.07 1893.84,2256.85 1899.81,2244.78 1905.78,2232.86 1911.75,2221.09 1917.72,2209.47 1923.68,2198.01 1929.65,2186.7 1935.62,2175.55 1941.59,2164.55 1947.56,2153.71 1953.53,2143.04 1959.5,2132.52 1965.46,2122.17 1971.43,2111.97 1977.4,2101.94 1983.37,2092.08 1989.34,2082.38 1995.31,2072.85 2001.28,2063.48 2007.25,2054.29 2013.21,2045.26 2019.18,2036.4 2025.15,2027.72 2031.12,2019.21 2037.09,2010.87 2043.06,2002.7 2049.03,1994.71 2054.99,1986.89 2060.96,1979.25 2066.93,1971.79 2072.9,1964.5 2078.87,1957.39 2084.84,1950.46 2090.81,1943.71 2096.78,1937.15 2102.74,1930.76 2108.71,1924.55 2114.68,1918.53 2120.65,1912.69 2126.62,1907.03 2132.59,1901.56 2138.56,1896.27 2144.52,1891.17 2150.49,1886.25 2156.46,1881.52 2162.43,1876.98 2168.4,1872.62 2174.37,1868.45 2180.34,1864.47 2186.3,1860.67 2192.27,1857.07 2198.24,1853.65 2204.21,1850.43 2210.18,1847.39 2216.15,1844.55 2222.12,1841.89 2228.09,1839.42 2234.05,1837.15 2240.02,1835.07 2245.99,1833.18 2251.96,1831.47 2257.93,1829.97 2263.9,1828.65 2269.87,1827.52 2275.83,1826.59 2281.8,1825.85 2287.77,1825.3 2293.74,1824.95 2299.71,1824.78 2305.68,1824.81 2311.65,1825.03 2317.61,1825.44 2323.58,1826.05 2329.55,1826.85 2335.52,1827.84 2341.49,1829.02 2347.46,1830.39 2353.43,1831.96 2359.39,1833.71 2365.36,1835.66 2371.33,1837.8 2377.3,1840.13 2383.27,1842.65 2389.24,1845.37 2395.21,1848.27" stroke-width="5" stroke-linejoin="round" stroke-linecap="square"/>
<polyline points="1798.34,2469.42 1917.72,2221.97 2037.09,2029.71 2156.46,1898.83 2275.83,1836.79 2395.21,1848.27" stroke-width="3.35" stroke-dasharray="12.33 5.33" stroke-linejoin="round"/>
<circle cx="1798.34" cy="2469.42" r="25" stroke-width="3.4"/>
<circle cx="1917.72" cy="2221.97" r="25" stroke-width="3.4"/>
<circle cx="2037.09" cy="2029.71" r="25" stroke-width="3.4"/>
<circle cx="2156.46" cy="1898.83" r="25" stroke-width="3.4"/>
<circle cx="2275.83" cy="1836.79" r="25" stroke-width="3.4"/>
<circle cx="2395.21" cy="1848.27" r="25" stroke-width="3.4"/>
</g>
<rect x="1768.5" y="1792.5" width="657.1" height="709" fill="none" stroke="#000" stroke-width="2.75" stroke-linejoin="miter"/>
<g font-size="33.9px" fill="#000" letter-spacing="-0.8">
<text x="1797.74" y="2551.08" text-anchor="middle">0.0</text>
<text x="1917.12" y="2551.08" text-anchor="middle">0.2</text>
<text x="2036.49" y="2551.08" text-anchor="middle">0.4</text>
<text x="2155.86" y="2551.08" text-anchor="middle">0.6</text>
<text x="2275.23" y="2551.08" text-anchor="middle">0.8</text>
<text x="2394.61" y="2551.08" text-anchor="middle">1.0</text>
<text x="1744.07" y="2510.75" text-anchor="end">0.65</text>
<text x="1744.07" y="2414.58" text-anchor="end">0.70</text>
<text x="1744.07" y="2318.41" text-anchor="end">0.75</text>
<text x="1744.07" y="2222.24" text-anchor="end">0.80</text>
<text x="1744.07" y="2126.08" text-anchor="end">0.85</text>
<text x="1744.07" y="2029.91" text-anchor="end">0.90</text>
<text x="1744.07" y="1933.74" text-anchor="end">0.95</text>
<text x="1744.07" y="1837.57" text-anchor="end">1.00</text>
</g>
<text x="2096.27" y="1771.75" font-size="60px" text-anchor="middle" fill="#000">time: 0.7s</text>
</g>
<g id="ax9">
<path d="M222.64 2644V3353M342.02 2644V3353M461.39 2644V3353M580.76 2644V3353M700.13 2644V3353M819.51 2644V3353M193 3272.56H849M193 3153.22H849M193 3033.88H849M193 2914.55H849M193 2795.21H849M193 2675.87H849" stroke="#b0b0b0" stroke-width="2.6" fill="none"/>
<path d="M222.64 3353v11.67M342.02 3353v11.67M461.39 3353v11.67M580.76 3353v11.67M700.13 3353v11.67M819.51 3353v11.67M193 3272.56h-11.67M193 3153.22h-11.67M193 3033.88h-11.67M193 2914.55h-11.67M193 2795.21h-11.67M193 2675.87h-11.67" stroke="#000" stroke-width="2.75" fill="none"/>
<g clip-path="url(#c9)" fill="none" stroke="#000">
<polyline points="222.64,3320.52 228.61,3304.29 234.58,3288.24 240.55,3272.37 246.52,3256.67 252.49,3241.16 258.45,3225.83 264.42,3210.68 270.39,3195.71 276.36,3180.94 282.33,3166.35 288.3,3151.95 294.27,3137.74 300.24,3123.73 306.2,3109.91 312.17,3096.28 318.14,3082.85 324.11,3069.62 330.08,3056.59 336.05,3043.76 342.02,3031.13 347.98,3018.7 353.95,3006.48 359.92,2994.46 365.89,2982.65 371.86,2971.05 377.83,2959.66 383.8,2948.47 389.76,2937.5 395.73,2926.75 401.7,2916.2 407.67,2905.87 413.64,2895.76 419.61,2885.86 425.58,2876.18 431.55,2866.72 437.51,2857.48 443.48,2848.45 449.45,2839.65 455.42,2831.08 461.39,2822.72 467.36,2814.59 473.33,2806.69 479.29,2799.01 485.26,2791.55 491.23,2784.33 497.2,2777.33 503.17,2770.56 509.14,2764.01 515.11,2757.7 521.07,2751.62 527.04,2745.77 533.01,2740.16 538.98,2734.77 544.95,2729.62 550.92,2724.7 556.89,2720.01 562.86,2715.56 568.82,2711.34 574.79,2707.36 580.76,2703.61 586.73,2700.1 592.7,2696.83 598.67,2693.79 604.64,2690.99 610.6,2688.43 616.57,2686.1 622.54,2684.01 628.51,2682.16 634.48,2680.55 640.45,2679.18 646.42,2678.04 652.38,2677.14 658.35,2676.48 664.32,2676.06 670.29,2675.88 676.26,2675.94 682.23,2676.23 688.2,2676.77 694.17,2677.54 700.13,2678.55 706.1,2679.8 712.07,2681.29 718.04,2683.02 724.01,2684.98 729.98,2687.18 735.95,2689.62 741.91,2692.3 747.88,2695.21 753.85,2698.36 759.82,2701.75 765.79,2705.37 771.76,2709.23 777.73,2713.33 783.69,2717.65 789.66,2722.22 795.63,2727.02 801.6,2732.05 807.57,2737.31 813.54,2742.81 819.51,2748.54" stroke-width="5" stroke-linejoin="round" stroke-linecap="square"/>
<polyline points="222.64,3320.52 342.02,3048.07 461.39,2847.07 580.76,2726.05 700.13,2692.16 819.51,2748.54" stroke-width="3.35" stroke-dasharray="12.33 5.33" stroke-linejoin="round"/>
<circle cx="222.64" cy="3320.52" r="25" stroke-width="3.4"/>
<circle cx="342.02" cy="3048.07" r="25" stroke-width="3.4"/>
<circle cx="461.39" cy="2847.07" r="25" stroke-width="3.4"/>
<circle cx="580.76" cy="2726.05" r="25" stroke-width="3.4"/>
<circle cx="700.13" cy="2692.16" r="25" stroke-width="3.4"/>
<circle cx="819.51" cy="2748.54" r="25" stroke-width="3.4"/>
</g>
<rect x="193" y="2644" width="656" height="709" fill="none" stroke="#000" stroke-width="2.75" stroke-linejoin="miter"/>
<g font-size="33.9px" fill="#000" letter-spacing="-0.8">
<text x="222.04" y="3402.18" text-anchor="middle">0.0</text>
<text x="341.42" y="3402.18" text-anchor="middle">0.2</text>
<text x="460.79" y="3402.18" text-anchor="middle">0.4</text>
<text x="580.16" y="3402.18" text-anchor="middle">0.6</text>
<text x="699.53" y="3402.18" text-anchor="middle">0.8</text>
<text x="818.91" y="3402.18" text-anchor="middle">1.0</text>
<text x="168.37" y="3285.36" text-anchor="end">0.75</text>
<text x="168.37" y="3166.02" text-anchor="end">0.80</text>
<text x="168.37" y="3046.68" text-anchor="end">0.85</text>
<text x="168.37" y="2927.35" text-anchor="end">0.90</text>
<text x="168.37" y="2808.01" text-anchor="end">0.95</text>
<text x="168.37" y="2688.67" text-anchor="end">1.00</text>
</g>
<text x="520.58" y="2622.85" font-size="60px" text-anchor="middle" fill="#000">time: 0.8s</text>
<text transform="translate(68.9 2999.8) rotate(-90)" font-size="59.5px" text-anchor="middle" fill="#000">f(x,t)</text>
</g>
<g id="ax10">
<path d="M1010.49 2644V3353M1129.87 2644V3353M1249.24 2644V3353M1368.61 2644V3353M1487.98 2644V3353M1607.36 2644V3353M980.5 3286.75H1637.5M980.5 3134.03H1637.5M980.5 2981.32H1637.5M980.5 2828.6H1637.5M980.5 2675.88H1637.5" stroke="#b0b0b0" stroke-width="2.6" fill="none"/>
<path d="M1010.49 3353v11.67M1129.87 3353v11.67M1249.24 3353v11.67M1368.61 3353v11.67M1487.98 3353v11.67M1607.36 3353v11.67M980.5 3286.75h-11.67M980.5 3134.03h-11.67M980.5 2981.32h-11.67M980.5 2828.6h-11.67M980.5 2675.88h-11.67" stroke="#000" stroke-width="2.75" fill="none"/>
<g clip-path="url(#c10)" fill="none" stroke="#000">
<polyline points="1010.49,3320.52 1016.46,3301.87 1022.43,3283.47 1028.4,3265.31 1034.37,3247.39 1040.34,3229.73 1046.31,3212.31 1052.27,3195.15 1058.24,3178.24 1064.21,3161.59 1070.18,3145.19 1076.15,3129.05 1082.12,3113.17 1088.09,3097.55 1094.05,3082.2 1100.02,3067.11 1105.99,3052.29 1111.96,3037.73 1117.93,3023.45 1123.9,3009.43 1129.87,2995.69 1135.83,2982.22 1141.8,2969.02 1147.77,2956.11 1153.74,2943.46 1159.71,2931.1 1165.68,2919.02 1171.65,2907.22 1177.62,2895.7 1183.58,2884.46 1189.55,2873.51 1195.52,2862.85 1201.49,2852.47 1207.46,2842.38 1213.43,2832.57 1219.4,2823.06 1225.36,2813.84 1231.33,2804.91 1237.3,2796.27 1243.27,2787.93 1249.24,2779.88 1255.21,2772.12 1261.18,2764.66 1267.14,2757.5 1273.11,2750.64 1279.08,2744.07 1285.05,2737.8 1291.02,2731.83 1296.99,2726.16 1302.96,2720.79 1308.93,2715.72 1314.89,2710.96 1320.86,2706.49 1326.83,2702.33 1332.8,2698.47 1338.77,2694.91 1344.74,2691.66 1350.71,2688.71 1356.67,2686.07 1362.64,2683.73 1368.61,2681.69 1374.58,2679.96 1380.55,2678.53 1386.52,2677.41 1392.49,2676.6 1398.45,2676.09 1404.42,2675.88 1410.39,2675.98 1416.36,2676.39 1422.33,2677.1 1428.3,2678.12 1434.27,2679.44 1440.24,2681.07 1446.2,2683 1452.17,2685.23 1458.14,2687.78 1464.11,2690.62 1470.08,2693.77 1476.05,2697.22 1482.02,2700.98 1487.98,2705.04 1493.95,2709.4 1499.92,2714.06 1505.89,2719.03 1511.86,2724.3 1517.83,2729.86 1523.8,2735.73 1529.76,2741.9 1535.73,2748.36 1541.7,2755.13 1547.67,2762.19 1553.64,2769.55 1559.61,2777.2 1565.58,2785.15 1571.55,2793.39 1577.51,2801.93 1583.48,2810.76 1589.45,2819.88 1595.42,2829.3 1601.39,2839 1607.36,2848.99" stroke-width="5" stroke-linejoin="round" stroke-linecap="square"/>
<polyline points="1010.49,3320.52 1129.87,3016.46 1249.24,2811.03 1368.61,2710.1 1487.98,2721.53 1607.36,2848.99" stroke-width="3.35" stroke-dasharray="12.33 5.33" stroke-linejoin="round"/>
<circle cx="1010.49" cy="3320.52" r="25" stroke-width="3.4"/>
<circle cx="1129.87" cy="3016.46" r="25" stroke-width="3.4"/>
<circle cx="1249.24" cy="2811.03" r="25" stroke-width="3.4"/>
<circle cx="1368.61" cy="2710.1" r="25" stroke-width="3.4"/>
<circle cx="1487.98" cy="2721.53" r="25" stroke-width="3.4"/>
<circle cx="1607.36" cy="2848.99" r="25" stroke-width="3.4"/>
</g>
<rect x="980.5" y="2644" width="657" height="709" fill="none" stroke="#000" stroke-width="2.75" stroke-linejoin="miter"/>
<g font-size="33.9px" fill="#000" letter-spacing="-0.8">
<text x="1009.89" y="3402.18" text-anchor="middle">0.0</text>
<text x="1129.27" y="3402.18" text-anchor="middle">0.2</text>
<text x="1248.64" y="3402.18" text-anchor="middle">0.4</text>
<text x="1368.01" y="3402.18" text-anchor="middle">0.6</text>
<text x="1487.38" y="3402.18" text-anchor="middle">0.8</text>
<text x="1606.76" y="3402.18" text-anchor="middle">1.0</text>
<text x="956.22" y="3299.55" text-anchor="end">0.80</text>
<text x="956.22" y="3146.83" text-anchor="end">0.85</text>
<text x="956.22" y="2994.12" text-anchor="end">0.90</text>
<text x="956.22" y="2841.4" text-anchor="end">0.95</text>
<text x="956.22" y="2688.68" text-anchor="end">1.00</text>
</g>
<text x="1308.42" y="2622.85" font-size="60px" text-anchor="middle" fill="#000">time: 0.9s</text>
</g>
<g id="ax11">
<path d="M1798.34 2644V3353M1917.72 2644V3353M2037.09 2644V3353M2156.46 2644V3353M2275.83 2644V3353M2395.21 2644V3353M1768.5 3326.5H2425.6M1768.5 3245.17H2425.6M1768.5 3163.84H2425.6M1768.5 3082.52H2425.6M1768.5 3001.19H2425.6M1768.5 2919.86H2425.6M1768.5 2838.54H2425.6M1768.5 2757.21H2425.6M1768.5 2675.88H2425.6" stroke="#b0b0b0" stroke-width="2.6" fill="none"/>
<path d="M1798.34 3353v11.67M1917.72 3353v11.67M2037.09 3353v11.67M2156.46 3353v11.67M2275.83 3353v11.67M2395.21 3353v11.67M1768.5 3326.5h-11.67M1768.5 3245.17h-11.67M1768.5 3163.84h-11.67M1768.5 3082.52h-11.67M1768.5 3001.19h-11.67M1768.5 2919.86h-11.67M1768.5 2838.54h-11.67M1768.5 2757.21h-11.67M1768.5 2675.88h-11.67" stroke="#000" stroke-width="2.75" fill="none"/>
<g clip-path="url(#c11)" fill="none" stroke="#000">
<polyline points="1798.34,3320.52 1804.31,3298.72 1810.28,3277.26 1816.25,3256.16 1822.22,3235.4 1828.19,3214.99 1834.15,3194.93 1840.12,3175.23 1846.09,3155.88 1852.06,3136.9 1858.03,3118.27 1864,3100.01 1869.97,3082.11 1875.94,3064.58 1881.9,3047.41 1887.87,3030.61 1893.84,3014.19 1899.81,2998.14 1905.78,2982.46 1911.75,2967.16 1917.72,2952.23 1923.68,2937.69 1929.65,2923.53 1935.62,2909.74 1941.59,2896.34 1947.56,2883.33 1953.53,2870.7 1959.5,2858.46 1965.46,2846.6 1971.43,2835.14 1977.4,2824.07 1983.37,2813.39 1989.34,2803.1 1995.31,2793.2 2001.28,2783.7 2007.25,2774.6 2013.21,2765.89 2019.18,2757.58 2025.15,2749.67 2031.12,2742.16 2037.09,2735.05 2043.06,2728.34 2049.03,2722.03 2054.99,2716.12 2060.96,2710.61 2066.93,2705.51 2072.9,2700.81 2078.87,2696.52 2084.84,2692.63 2090.81,2689.15 2096.78,2686.07 2102.74,2683.39 2108.71,2681.13 2114.68,2679.26 2120.65,2677.81 2126.62,2676.76 2132.59,2676.12 2138.56,2675.88 2144.52,2676.05 2150.49,2676.63 2156.46,2677.61 2162.43,2679 2168.4,2680.8 2174.37,2683 2180.34,2685.61 2186.3,2688.63 2192.27,2692.05 2198.24,2695.87 2204.21,2700.1 2210.18,2704.74 2216.15,2709.77 2222.12,2715.22 2228.09,2721.06 2234.05,2727.3 2240.02,2733.95 2245.99,2741 2251.96,2748.45 2257.93,2756.3 2263.9,2764.54 2269.87,2773.19 2275.83,2782.23 2281.8,2791.66 2287.77,2801.49 2293.74,2811.72 2299.71,2822.34 2305.68,2833.35 2311.65,2844.75 2317.61,2856.54 2323.58,2868.72 2329.55,2881.29 2335.52,2894.24 2341.49,2907.58 2347.46,2921.3 2353.43,2935.41 2359.39,2949.89 2365.36,2964.76 2371.33,2980 2377.3,2995.62 2383.27,3011.61 2389.24,3027.97 2395.21,3044.71" stroke-width="5" stroke-linejoin="round" stroke-linecap="square"/>
<polyline points="1798.34,3320.52 1917.72,2978.26 2037.09,2773.68 2156.46,2712.99 2275.83,2802.56 2395.21,3044.71" stroke-width="3.35" stroke-dasharray="12.33 5.33" stroke-linejoin="round"/>
<circle cx="1798.34" cy="3320.52" r="25" stroke-width="3.4"/>
<circle cx="1917.72" cy="2978.26" r="25" stroke-width="3.4"/>
<circle cx="2037.09" cy="2773.68" r="25" stroke-width="3.4"/>
<circle cx="2156.46" cy="2712.99" r="25" stroke-width="3.4"/>
<circle cx="2275.83" cy="2802.56" r="25" stroke-width="3.4"/>
<circle cx="2395.21" cy="3044.71" r="25" stroke-width="3.4"/>
</g>
<rect x="1768.5" y="2644" width="657.1" height="709" fill="none" stroke="#000" stroke-width="2.75" stroke-linejoin="miter"/>
<g font-size="33.9px" fill="#000" letter-spacing="-0.8">
<text x="1797.74" y="3402.18" text-anchor="middle">0.0</text>
<text x="1917.12" y="3402.18" text-anchor="middle">0.2</text>
<text x="2036.49" y="3402.18" text-anchor="middle">0.4</text>
<text x="2155.86" y="3402.18" text-anchor="middle">0.6</text>
<text x="2275.23" y="3402.18" text-anchor="middle">0.8</text>
<text x="2394.61" y="3402.18" text-anchor="middle">1.0</text>
<text x="1744.07" y="3339.3" text-anchor="end">0.84</text>
<text x="1744.07" y="3257.97" text-anchor="end">0.86</text>
<text x="1744.07" y="3176.64" text-anchor="end">0.88</text>
<text x="1744.07" y="3095.32" text-anchor="end">0.90</text>
<text x="1744.07" y="3013.99" text-anchor="end">0.92</text>
<text x="1744.07" y="2932.66" text-anchor="end">0.94</text>
<text x="1744.07" y="2851.34" text-anchor="end">0.96</text>
<text x="1744.07" y="2770.01" text-anchor="end">0.98</text>
<text x="1744.07" y="2688.68" text-anchor="end">1.00</text>
</g>
<text x="2096.27" y="2622.85" font-size="60px" text-anchor="middle" fill="#000">time: 1.0s</text>
</g>
</svg>
</body>
</html>
